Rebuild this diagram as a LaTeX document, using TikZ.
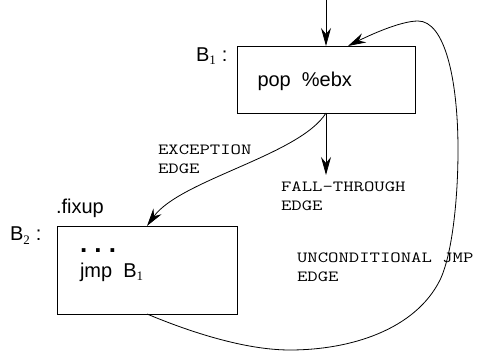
\documentclass[tikz,border=0pt]{standalone}
\usepackage{fontspec}
\setmainfont{Liberation Sans}
\newfontfamily\codefont{Latin Modern Mono}[FakeStretch=1.3]
\newfontfamily\numfont{Liberation Serif}
\usetikzlibrary{arrows.meta}

% block name with a serif subscript, e.g. B_1
\newcommand{\blkname}[1]{B\raisebox{-3pt}{\numfont\fontsize{13}{13}\selectfont #1}}

\tikzset{
  blk/.style={draw=black, line width=0.9pt, inner sep=0pt, outer sep=0pt},
  txt/.style={anchor=base west, inner sep=0pt, outer sep=0pt,
              font=\fontsize{20}{24}\selectfont},
  code/.style={anchor=base west, inner sep=0pt, outer sep=0pt, align=left,
               font=\codefont\fontsize{15.5}{19}\selectfont},
  arr/.style={line width=0.8pt, -{Stealth[length=18pt,width=10pt,inset=6pt]}}
}

\begin{document}
\begin{tikzpicture}[x=1pt,y=-1pt]
  \useasboundingbox (0,0) rectangle (481,352);

  % basic blocks
  \node[blk, minimum width=178pt, minimum height=67pt] (b1) at (326,79.5) {};
  \node[blk, minimum width=180pt, minimum height=88pt] (b2) at (147,270) {};

  % block labels and contents
  \node[txt] (b1name) at (196,62) {\blkname{1}\hspace{6pt}:};
  \node[txt] (b1code) at (257.5,87) {pop\ \ \%ebx};
  \node[txt] (fixup) at (56,214) {.fixup};
  \node[txt] (b2name) at (10,241) {\blkname{2}\hspace{6pt}:};
  \node[txt, font=\bfseries\fontsize{26}{30}\selectfont] (dots) at (80,253) {.\ .\ .};
  \node[txt] (b2code) at (80,277.5) {jmp\ \ \blkname{1}};

  % edge labels (anchored at the baseline of the last line)
  \node[code] (lexc) at (158,173.5) {EXCEPTION\\EDGE};
  \node[code] (lfall) at (281,210.5) {FALL-THROUGH\\EDGE};
  \node[code] (ljmp) at (297,281.5) {UNCONDITIONAL JMP\\EDGE};

  % entry edge
  \coordinate (entry) at (326,0);
  \draw[arr] (entry) -- (b1.north);

  % fall-through edge
  \coordinate (fallend) at (326,175);
  \draw[arr] (b1.south) -- (fallend);

  % exception edge
  \draw[arr] (b1.south) .. controls (300,155) and (180,180) .. (b2.north);

  % unconditional jump back to B1
  \coordinate (b1in) at ([xshift=22pt]b1.north);
  \draw[arr] (b2.south)
      .. controls (190,332) and (245,350) .. (290,350)
      .. controls (350,350) and (415,330) .. (440,280)
      .. controls (452,255) and (458,200) .. (458,150)
      .. controls (458,80) and (445,21) .. (418,21)
      .. controls (400,21) and (368,36) .. (b1in);
\end{tikzpicture}
\end{document}
